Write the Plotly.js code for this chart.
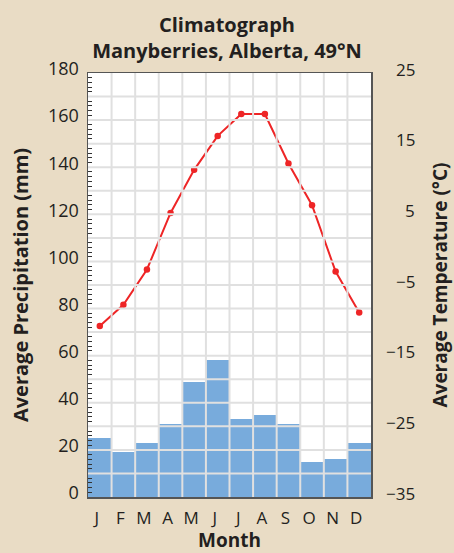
<!DOCTYPE html>
<html>
<head>
<meta charset="utf-8">
<script src="https://cdn.plot.ly/plotly-3.0.1.min.js"></script>
<style>html,body{margin:0;padding:0;background:#e9dcc5;}#chart{width:454px;height:553px;}</style>
</head>
<body>
<div id="chart"></div>
<script>
const months = ['J','F','M','A','M','J','J','A','S','O','N','D'];
const monthIds = ['Jan','Feb','Mar','Apr','May','Jun','Jul','Aug','Sep','Oct','Nov','Dec'];
const precipitation = [25, 19, 23, 31, 49, 58, 33, 35, 31, 15, 16, 23];
const temperature = [-10.8, -7.8, -2.8, 5.2, 11.3, 16.1, 19.2, 19.2, 12.2, 6.3, -3.1, -8.9];
const precipTicks = [0,10,20,30,40,50,60,70,80,90,100,110,120,130,140,150,160,170,180];
const tempTicks = [-35,-25,-15,-5,5,15,25];
const tempLabels = ['\u221235','\u221225','\u221215','\u22125','5','15','25'];

const FONT = '"Open Sans", "Noto Sans", sans-serif';
const ink = '#231f20';

const shapes = [];
for (let v = 10; v < 180; v += 10) {
  shapes.push({type:'line', xref:'paper', yref:'y', x0:0, x1:1, y0:v, y1:v,
    line:{color:'#e0e0e0', width:2}, layer:'above'});
}
for (let i = 1; i < months.length; i++) {
  shapes.push({type:'line', xref:'x', yref:'paper', x0:i-0.5, x1:i-0.5, y0:0, y1:1,
    line:{color:'#e0e0e0', width:2}, layer:'above'});
}

const annotations = tempTicks.map((v, i) => ({
  xref:'paper', yref:'y2', x:1, y:v, xanchor:'right', yanchor:'middle',
  xshift:46, yshift:4, showarrow:false, text:tempLabels[i], font:{size:17, color:ink}
}));

const traces = [
  {type:'bar', x:monthIds, y:precipitation, marker:{color:'#78abdc', line:{width:0}},
   hoverinfo:'skip', yaxis:'y'},
  {type:'scatter', mode:'lines+markers', x:monthIds, y:temperature, yaxis:'y2',
   line:{color:'#ee2526', width:2}, marker:{color:'#ee2526', size:6.5}}
];

const layout = {
  width:454, height:553,
  paper_bgcolor:'#e9dcc5', plot_bgcolor:'#ffffff',
  margin:{l:88, r:83, t:73, b:56},
  showlegend:false,
  bargap:0,
  font:{family:FONT, color:ink, size:16},
  title:{text:'<b>Climatograph<br>Manyberries, Alberta, 49°N</b>', x:0.5, xanchor:'center',
    yref:'container', y:0.942, yanchor:'middle', font:{family:FONT, size:20, color:ink}},
  xaxis:{type:'category', tickvals:monthIds, ticktext:months, showgrid:false, ticks:'',
    showline:true, linecolor:'#555', linewidth:1.5, mirror:true, ticklabelstandoff:5, ticklabelshift:-3,
    tickfont:{size:17}, title:{text:'<b>Month</b>', font:{size:19}, standoff:8}, range:[-0.5,11.5]},
  yaxis:{range:[0,180], tickvals:precipTicks,
    ticktext:precipTicks.map(v => v % 20 === 0 ? String(v) : ''),
    ticks:'inside', ticklen:7, tickcolor:'#333', tickwidth:1.2,
    minor:{dtick:2, ticks:'inside', ticklen:4, tickcolor:'#333', tickwidth:1},
    showgrid:false, zeroline:false, showline:true, linecolor:'#555', linewidth:1.5,
    tickfont:{size:18}, ticklabelshift:-4, ticklabelstandoff:4,
    title:{text:'<b>Average Precipitation (mm)</b>', font:{size:20}, standoff:14}},
  yaxis2:{range:[-35,25], overlaying:'y', side:'right', tickvals:tempTicks, showticklabels:false,
    ticks:'inside', ticklen:8, tickcolor:'#555', tickwidth:1.5,
    showgrid:false, zeroline:false, showline:true, linecolor:'#555', linewidth:1.5,
    title:{text:'<b>Average Temperature (°C)</b>', font:{size:19}, standoff:62}},
  annotations:annotations,
  shapes:shapes
};

Plotly.newPlot('chart', traces, layout, {displayModeBar:false, staticPlot:true});
</script>
</body>
</html>
